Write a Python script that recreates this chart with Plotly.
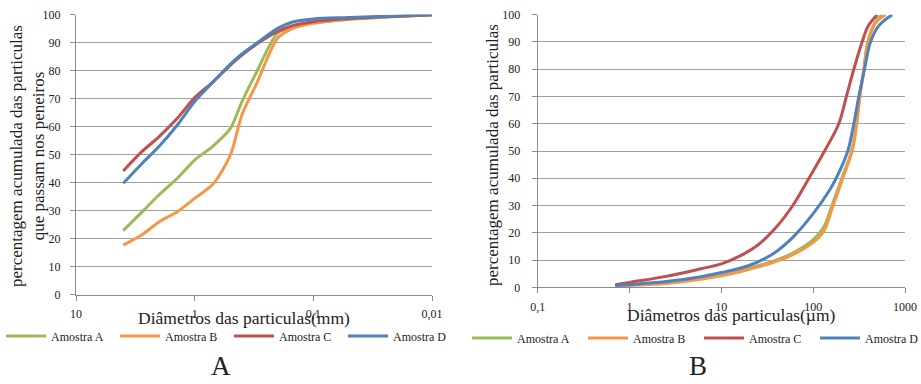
import plotly.graph_objects as go

# ---------------- Data: chart A (sieve analysis, mm) ----------------
diam_mm = [4.0, 2.8, 2.0, 1.4, 1.0, 0.7, 0.5, 0.4, 0.3, 0.2, 0.15, 0.1, 0.05, 0.01]
a_A = [22.9, 29.4, 35.6, 41.6, 48.1, 53.1, 59.4, 68.9, 79.6, 93.4, 95.4, 97.0, 98.4, 100]
a_B = [17.7, 21.3, 26.0, 29.6, 34.4, 39.5, 49.9, 64.2, 75.5, 91.6, 95.0, 97.0, 98.4, 100]
a_C = [44.2, 51.0, 56.4, 63.0, 70.4, 76.0, 82.0, 85.6, 89.5, 94.0, 96.1, 97.5, 98.6, 100]
a_D = [39.8, 46.7, 52.9, 60.6, 69.0, 76.0, 82.4, 86.0, 89.8, 95.1, 97.4, 98.5, 99.0, 100]

# ---------------- Data: chart B (laser granulometry, µm) ----------------
b_A_x = [0.7, 1, 2.5, 10, 20, 37, 60, 100, 130, 160, 205, 262, 296, 321, 356, 393, 470, 560]
b_A_y = [0.6, 0.8, 1.6, 4.5, 7.0, 9.6, 12.6, 17.5, 22.0, 30, 40, 50, 60, 70, 80, 90, 97, 100]
b_B_x = [0.7, 1, 2.5, 10, 20, 37, 60, 100, 130, 165, 210, 266, 298, 323, 358, 396, 480, 615]
b_B_y = [0.5, 0.7, 1.4, 4.2, 6.6, 9.2, 12.0, 16.5, 20.5, 30, 40, 50, 60, 70, 80, 90, 97, 100]
b_C_x = [0.7, 1, 2.5, 6, 10, 16, 25, 40, 60, 90, 133, 190, 230, 277, 341, 400, 500]
b_C_y = [0.9, 1.8, 4.0, 6.8, 8.6, 11.5, 15.5, 22.2, 30, 40, 50, 60, 70, 80, 90, 96, 100]
b_D_x = [0.7, 1, 2.5, 6, 10, 20, 37, 60, 100, 150, 178, 238, 277, 314, 362, 421, 520, 725]
b_D_y = [0.7, 1.0, 2.1, 3.9, 5.4, 8.0, 12.4, 18.3, 27, 35.5, 40, 50, 60, 70, 80, 90, 96, 100]

names = ["Amostra A", "Amostra B", "Amostra C", "Amostra D"]
colors = ["#9BBB59", "#F79646", "#C0504D", "#4F81BD"]

left_tickvals = [10, 1, 0.1, 0.01]
left_ticktext = ["10", "1", "0,1", "0,01"]
right_tickvals = [0.1, 1, 10, 100, 1000]
right_ticktext = ["0,1", "1", "10", "100", "1000"]
y_ticks = list(range(0, 101, 10))

SERIF = "Liberation Serif, DejaVu Serif, serif"
W, H = 921, 384


def xp(px):
    return px / W


def yp(py):
    return 1 - py / H


fig = go.Figure()

for nm, col, ys in zip(names, colors, [a_A, a_B, a_C, a_D]):
    fig.add_trace(go.Scatter(x=diam_mm, y=ys, name=nm, mode="lines",
                             line=dict(color=col, width=3, shape="spline", smoothing=0.8),
                             xaxis="x", yaxis="y", legend="legend"))

for nm, col, xs, ys in zip(names, colors, [b_A_x, b_B_x, b_C_x, b_D_x],
                           [b_A_y, b_B_y, b_C_y, b_D_y]):
    fig.add_trace(go.Scatter(x=xs, y=ys, name=nm, mode="lines",
                             line=dict(color=col, width=3, shape="spline", smoothing=1.0),
                             xaxis="x2", yaxis="y2", legend="legend2"))

axis_common = dict(showline=True, linecolor="#8c8c8c", linewidth=1,
                   ticks="outside", ticklen=5, tickcolor="#8c8c8c",
                   ticklabeloverflow="allow",
                   tickfont=dict(family=SERIF, size=12, color="#222"))

legend_common = dict(orientation="h", xanchor="left", yanchor="middle",
                     font=dict(family=SERIF, size=12, color="#222"),
                     bgcolor="rgba(0,0,0,0)", itemwidth=40, tracegroupgap=0)

fig.update_layout(
    width=W, height=H,
    margin=dict(l=0, r=0, t=0, b=0, autoexpand=False),
    paper_bgcolor="white", plot_bgcolor="white",
    xaxis=dict(domain=[xp(76), xp(432)], type="log", range=[1, -2],
               tickvals=left_tickvals, ticktext=left_ticktext, ticklabelstandoff=3,
               showgrid=False, zeroline=False, anchor="y", **axis_common),
    yaxis=dict(domain=[yp(294.7), yp(14.7)], range=[0, 100],
               tickvals=y_ticks, showgrid=True, gridcolor="#a0a0a0", gridwidth=1,
               zeroline=False, anchor="x", ticklabelstandoff=7, **axis_common),
    xaxis2=dict(domain=[xp(537.7), xp(905)], type="log", range=[-1, 3],
                tickvals=right_tickvals, ticktext=right_ticktext, ticklabelstandoff=3,
                showgrid=False, zeroline=False, anchor="y2", **axis_common),
    yaxis2=dict(domain=[yp(287.3), yp(14.7)], range=[0, 100],
                tickvals=y_ticks, showgrid=True, gridcolor="#a0a0a0", gridwidth=1,
                zeroline=False, anchor="x2", ticklabelstandoff=9, **axis_common),
    legend=dict(x=xp(1), y=yp(336), entrywidth=59, **legend_common),
    legend2=dict(x=xp(467), y=yp(338), entrywidth=61, **legend_common),
    showlegend=True,
)

ann_font = dict(family=SERIF, size=17, color="#222")
fig.add_annotation(text="percentagem acumulada das particulas<br>que passam nos peneiros",
                   xref="paper", yref="paper", x=xp(27), y=yp(156),
                   xanchor="center", yanchor="middle", textangle=-90, showarrow=False,
                   font=ann_font)
fig.add_annotation(text="percentagem acumulada das particulas",
                   xref="paper", yref="paper", x=xp(493), y=yp(155),
                   xanchor="center", yanchor="middle", textangle=-90, showarrow=False,
                   font=ann_font)
fig.add_annotation(text="Diâmetros das particulas(mm)",
                   xref="paper", yref="paper", x=xp(244), y=yp(318),
                   xanchor="center", yanchor="middle", showarrow=False,
                   font=dict(family=SERIF, size=17.5, color="#222"))
fig.add_annotation(text="Diâmetros das particulas(µm)",
                   xref="paper", yref="paper", x=xp(731), y=yp(315),
                   xanchor="center", yanchor="middle", showarrow=False,
                   font=dict(family=SERIF, size=17.5, color="#222"))
fig.add_annotation(text="A", xref="paper", yref="paper", x=xp(221), y=yp(366),
                   xanchor="center", yanchor="middle", showarrow=False,
                   font=dict(family=SERIF, size=27, color="#222"))
fig.add_annotation(text="B", xref="paper", yref="paper", x=xp(698), y=yp(366),
                   xanchor="center", yanchor="middle", showarrow=False,
                   font=dict(family=SERIF, size=27, color="#222"))

# remove the default 8 px page margin so the 921x384 figure fills the window exactly
fig.write_html("out.html", config={"displayModeBar": False},
               post_script="document.body.style.margin='0px';")
